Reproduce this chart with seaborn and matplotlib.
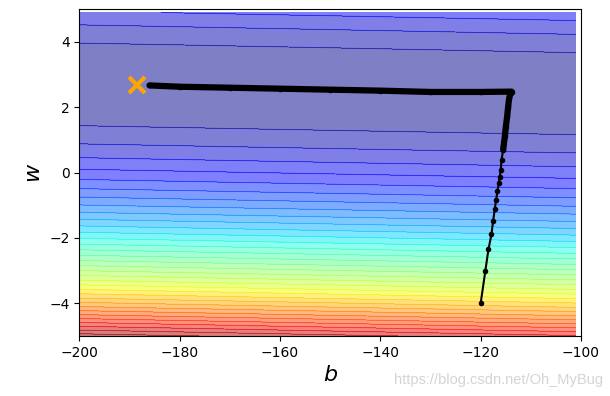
import numpy as np
import matplotlib
matplotlib.use('Agg')
import matplotlib.pyplot as plt
import seaborn as sns

# training data (pokemon cp example) used for the loss surface
x_data = [338., 333., 328., 207., 226., 25., 179., 60., 208., 606.]
y_data = [640., 633., 619., 393., 428., 27., 193., 66., 226., 1591.]

# gradient descent path (b, w)
b_hist = [-120.0, -119.06, -118.45, -117.85, -117.53, -117.19, -116.93, -116.65,
          -116.39, -116.2, -116.0, -115.84, -115.52, -115.18, -114.98, -114.72,
          -114.52, -114.32, -114.04, -113.84, -120.0, -130.0, -140.0, -150.0,
          -160.0, -170.0, -180.0, -186.0]
w_hist = [-4.00, -3.00, -2.35, -1.89, -1.49, -1.12, -0.84, -0.56,
          -0.33, -0.12, 0.08, 0.39, 0.70, 1.11, 1.41, 1.72,
          2.02, 2.28, 2.44, 2.48, 2.47, 2.47, 2.51, 2.54,
          2.57, 2.60, 2.63, 2.67]
dense_from = 12  # from here the iterations pile up into a solid trail

# the optimum found by closed form
b_best = [-188.4]
w_best = [2.67]

#%% loss surface
b_grid = np.arange(-200, -100, 1)
w_grid = np.arange(-5, 5, 0.1)
B, W = np.meshgrid(b_grid, w_grid)
xd = np.array(x_data)[:, None, None]
yd = np.array(y_data)[:, None, None]
Z = ((yd - B - W * xd) ** 2).mean(axis=0)

#%% plot
fig = plt.figure(figsize=(6.10, 3.96), dpi=100)
ax = fig.add_axes([79.3 / 610, 60 / 396, 501.7 / 610, 326.7 / 396])

ax.contourf(b_grid, w_grid, Z, 50, alpha=0.5, cmap=plt.get_cmap('jet'))
ax.contour(b_grid, w_grid, Z, 50, alpha=0.3, cmap=plt.get_cmap('jet'), linewidths=0.6)

ax.plot(b_best, w_best, 'x', ms=12, markeredgewidth=3, color='orange')
sns.lineplot(x=b_hist, y=w_hist, sort=False, estimator=None, ax=ax,
             color='black', linewidth=1.5, marker='o', markersize=3,
             markeredgecolor='black', markeredgewidth=1)
sns.lineplot(x=b_hist[dense_from:], y=w_hist[dense_from:], sort=False, estimator=None,
             ax=ax, color='black', linewidth=4.5, solid_capstyle='round',
             solid_joinstyle='round')

ax.set_xlim(-200, -100)
ax.set_ylim(-5, 5)
ax.set_xlabel(r'$b$', fontsize=16)
ax.set_ylabel(r'$w$', fontsize=16)

fig.text(0.988, 0.022, 'https://blog.csdn.net/Oh_MyBug', ha='right', va='bottom',
         color='#d4d4d4', fontsize=10.5, family='Liberation Sans')

fig.savefig('out.png', dpi=100)
